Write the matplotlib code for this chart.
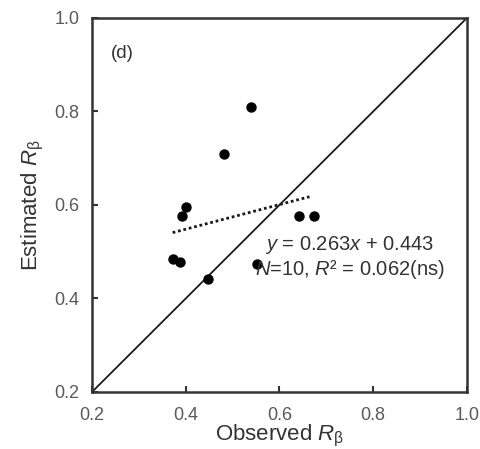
import matplotlib
matplotlib.use("Agg")
import matplotlib.pyplot as plt
import numpy as np

plt.rcParams['font.family'] = ['Liberation Sans', 'DejaVu Sans']
plt.rcParams['mathtext.fontset'] = 'custom'
plt.rcParams['mathtext.rm'] = 'Liberation Sans'
plt.rcParams['mathtext.it'] = 'Liberation Sans:italic'

# Observed vs estimated R_beta
observed = [0.539, 0.482, 0.400, 0.391, 0.642, 0.674, 0.372, 0.388, 0.448, 0.553]
estimated = [0.810, 0.708, 0.596, 0.577, 0.576, 0.576, 0.484, 0.477, 0.442, 0.473]

# fitted line from the annotation
slope = 0.263
intercept = 0.443

ticks = [0.2, 0.4, 0.6, 0.8, 1.0]

fig = plt.figure(figsize=(4.8, 4.49), dpi=100)
ax = fig.add_axes([0.1917, 0.127, 0.781, 0.833])

# 1:1 line
ax.plot([0.2, 1.0], [0.2, 1.0], color='#1a1a1a', linewidth=1.3, zorder=2)

# regression line over the data range
xs = np.array([min(observed), max(observed) - 0.01])
ax.plot(xs, slope * xs + intercept, color='#1a1a1a', linewidth=2.0,
        linestyle=(0, (1, 1.0)), zorder=2)

ax.scatter(observed, estimated, s=42, color='black', zorder=3)

ax.set_xlim(0.2, 1.0)
ax.set_ylim(0.2, 1.0)
ax.set_xticks(ticks)
ax.set_yticks(ticks)
ax.set_xticklabels([f"{t:.1f}" for t in ticks])
ax.set_yticklabels([f"{t:.1f}" for t in ticks])

ax.tick_params(direction='in', length=4, width=1.5, labelsize=13,
               labelcolor='#5a5a5a', color='#333333')
ax.tick_params(axis='x', pad=11)
ax.tick_params(axis='y', pad=9)
for s in ax.spines.values():
    s.set_linewidth(1.8)
    s.set_color('#333333')

ax.set_xlabel(r"Observed $R_\mathrm{β}$", fontsize=16, color='#333333', labelpad=-1)
ax.set_ylabel(r"Estimated $R_\mathrm{β}$", fontsize=16, color='#333333', labelpad=6)

ax.text(0.264, 0.925, "(d)", fontsize=13.5, color='#333333', ha='center', va='center')
ax.text(0.75, 0.514, r"$y$ = 0.263$x$ + 0.443", fontsize=14.5, color='#333333',
        ha='center', va='center')
ax.text(0.75, 0.461, r"$N$=10, $R$² = 0.062(ns)", fontsize=14.5, color='#333333',
        ha='center', va='center')

fig.savefig("out.png", dpi=100)
